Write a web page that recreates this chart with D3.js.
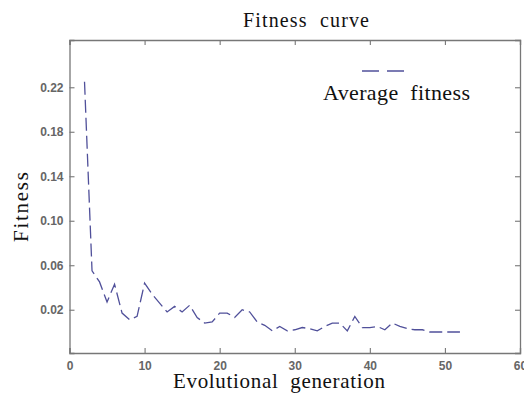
<!DOCTYPE html>
<html>
<head>
<meta charset="utf-8">
<script src="https://cdn.jsdelivr.net/npm/d3@7"></script>
<style>
  body { margin: 0; background: #fff; }
  text { white-space: pre; }
</style>
</head>
<body>
<div id="vis"></div>
<script>
// fitness values, one per generation
let generations = d3.range(2, 53);
let fitness = [
  0.225, 0.055, 0.045, 0.027, 0.043, 0.017, 0.011, 0.014, 0.044, 0.034,
  0.026, 0.018, 0.023, 0.018, 0.024, 0.013, 0.008, 0.009, 0.017, 0.017,
  0.013, 0.020, 0.018, 0.009, 0.006, 0.001, 0.005, 0.001, 0.002, 0.004,
  0.003, 0.001, 0.005, 0.008, 0.008, 0.001, 0.014, 0.004, 0.004, 0.005,
  0.002, 0.008, 0.005, 0.003, 0.002, 0.002, 0.000, 0.000, 0.000, 0.000,
  0.000
];
let xTicks = [0, 10, 20, 30, 40, 50, 60];
let yTicks = [0.02, 0.06, 0.10, 0.14, 0.18, 0.22];

let W = 524, H = 394;
let margin = { top: 40, left: 69.5, right: 4, bottom: 41 };

let svg = d3.select('#vis')
  .append('svg')
    .attr('width', W)
    .attr('height', H)
    .attr('viewBox', [0, 0, W, H].join(' '));

let x = d3.scaleLinear()
  .domain([0, 60])
  .range([margin.left, W - margin.right]);

let y = d3.scaleLinear()
  .domain([-0.0189, 0.2625])
  .range([H - margin.bottom, margin.top]);

let axisColor = '#777';
let labelColor = '#666';

// axes, MATLAB style: inward ticks mirrored on all four sides
let axisB = svg.append('g')
  .attr('transform', `translate(0,${H - margin.bottom})`)
  .call(d3.axisBottom(x).tickValues(xTicks).tickSize(-5).tickPadding(8).tickFormat(d3.format('d')));
let axisT = svg.append('g')
  .attr('transform', `translate(0,${margin.top})`)
  .call(d3.axisTop(x).tickValues(xTicks).tickSize(-5).tickFormat(''));
let axisL = svg.append('g')
  .attr('transform', `translate(${margin.left},0)`)
  .call(d3.axisLeft(y).tickValues(yTicks).tickSize(-5).tickPadding(6).tickFormat(d3.format('.2f')));
let axisR = svg.append('g')
  .attr('transform', `translate(${W - margin.right},0)`)
  .call(d3.axisRight(y).tickValues(yTicks).tickSize(-5).tickFormat(''));

[axisB, axisT, axisL, axisR].forEach(g => {
  g.select('.domain').attr('stroke', axisColor).attr('stroke-width', 1.3);
  g.selectAll('.tick line').attr('stroke', axisColor).attr('stroke-width', 1.1);
  g.selectAll('.tick text')
    .attr('fill', labelColor)
    .style('font-family', 'Liberation Sans, Arial, sans-serif')
    .style('font-size', '12px')
    .style('font-weight', 'bold');
});

// dashed fitness line
let line = d3.line()
  .x((d, i) => x(generations[i]))
  .y(d => y(d));

svg.append('path')
  .datum(fitness)
  .attr('fill', 'none')
  .attr('stroke', '#50509a')
  .attr('stroke-width', 1.3)
  .attr('stroke-dasharray', '13,5')
  .attr('d', line);

// texts
let serif = 'Liberation Serif, Times New Roman, serif';

svg.append('text')
  .attr('x', 243).attr('y', 27)
  .attr('textLength', 126)
  .style('font-family', serif).style('font-size', '20px')
  .attr('fill', '#111')
  .text('Fitness  curve');

svg.append('text')
  .attr('x', 173).attr('y', 388)
  .attr('textLength', 212)
  .style('font-family', serif).style('font-size', '21px')
  .attr('fill', '#111')
  .text('Evolutional  generation');

svg.append('text')
  .attr('transform', 'translate(28,242) rotate(-90)')
  .attr('textLength', 70)
  .style('font-family', serif).style('font-size', '21px')
  .attr('fill', '#111')
  .text('Fitness');

// legend
svg.append('line')
  .attr('x1', 362).attr('x2', 404)
  .attr('y1', 71).attr('y2', 71)
  .attr('stroke', '#50509a')
  .attr('stroke-width', 1.3)
  .attr('stroke-dasharray', '17,8');

svg.append('text')
  .attr('x', 323).attr('y', 100)
  .attr('textLength', 147)
  .style('font-family', serif).style('font-size', '22px')
  .attr('fill', '#111')
  .text('Average  fitness');
</script>
</body>
</html>
